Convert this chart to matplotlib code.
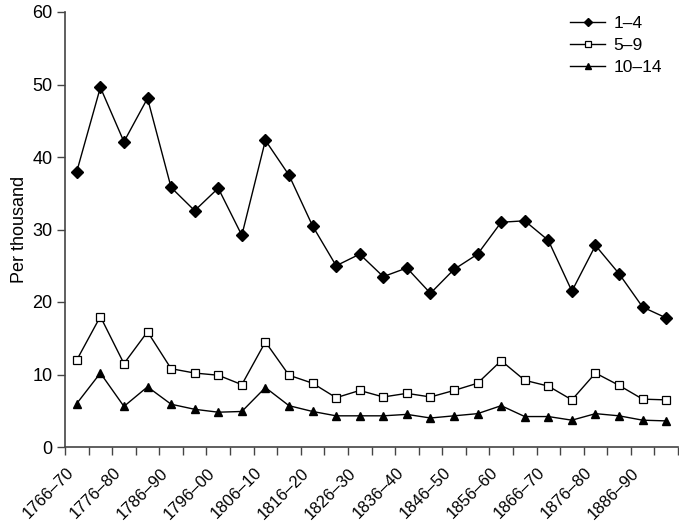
import matplotlib
matplotlib.use("Agg")
import matplotlib.pyplot as plt
import matplotlib.transforms as mtransforms
import numpy as np

plt.rcParams['font.family'] = ['Liberation Sans', 'DejaVu Sans']

periods = [f"{1766 + 5*i}–{(1770 + 5*i) % 100:02d}" for i in range(26)]
tick_labels = ["1766–70", "1776–80", "1786–90", "1796–00", "1806–10", "1816–20",
               "1826–30", "1836–40", "1846–50", "1856–60", "1866–70", "1876–80", "1886–90"]

age_1_4 = [38.0, 49.6, 42.1, 48.1, 35.8, 32.6, 35.7, 29.2, 42.3, 37.5, 30.5, 25.0, 26.6,
           23.5, 24.7, 21.2, 24.5, 26.6, 31.0, 31.2, 28.5, 21.5, 27.8, 23.9, 19.3, 17.8]
age_5_9 = [12.0, 18.0, 11.5, 15.9, 10.8, 10.2, 9.9, 8.6, 14.5, 9.9, 8.8, 6.8, 7.8,
           6.9, 7.4, 6.9, 7.8, 8.8, 11.9, 9.2, 8.4, 6.5, 10.2, 8.5, 6.6, 6.5]
age_10_14 = [6.0, 10.2, 5.6, 8.3, 5.9, 5.2, 4.8, 4.9, 8.2, 5.7, 4.9, 4.3, 4.3,
             4.3, 4.5, 4.0, 4.3, 4.6, 5.7, 4.2, 4.2, 3.7, 4.6, 4.3, 3.7, 3.6]

fig = plt.figure(figsize=(6.79, 5.25), dpi=100)
ax = fig.add_axes([65/679, 1 - 447/525, (678-65)/679, (447-12)/525])

x = np.arange(len(periods))
lw = 1.0
ax.plot(x, age_1_4, color='black', lw=lw, marker='D', ms=6.5, mfc='black', mec='black', label='1–4')
ax.plot(x, age_5_9, color='black', lw=lw, marker='s', ms=6, mfc='white', mec='black', mew=0.9, label='5–9')
ax.plot(x, age_10_14, color='black', lw=lw, marker='^', ms=5.5, mfc='black', mec='black', label='10–14')

ax.set_xlim(-0.5, len(periods) - 0.5)
ax.set_ylim(0, 60)
ax.set_yticks([0, 10, 20, 30, 40, 50, 60])

# boundary ticks
ax.set_xticks(np.arange(-0.5, len(periods)), minor=True)
ax.tick_params(axis='x', which='minor', length=6, width=1, color='#444444', direction='out')
label_pos = x[::2]
ax.set_xticks(label_pos)
ax.set_xticklabels(tick_labels, rotation=45, ha='right', va='top', rotation_mode='anchor', fontsize=12)
ax.tick_params(axis='x', which='major', length=0, pad=13)
offset = mtransforms.ScaledTranslation(-8/72, 0, fig.dpi_scale_trans)
for lab in ax.get_xticklabels():
    lab.set_transform(lab.get_transform() + offset)

ax.tick_params(axis='y', length=6, width=1, color='#444444', labelsize=13, pad=3)
for s in ['top', 'right']:
    ax.spines[s].set_visible(False)
for s in ['left', 'bottom']:
    ax.spines[s].set_color('#444444')
    ax.spines[s].set_linewidth(1.2)

ax.set_ylabel('Per thousand', fontsize=13, labelpad=3)

leg = ax.legend(loc='upper right', bbox_to_anchor=(0.98, 1.0), frameon=False, fontsize=12.5,
                handlelength=2.0, markerscale=0.7, labelspacing=0.4, handletextpad=0.5,
                borderpad=0.2, borderaxespad=0)

fig.savefig('out.png', dpi=100)
